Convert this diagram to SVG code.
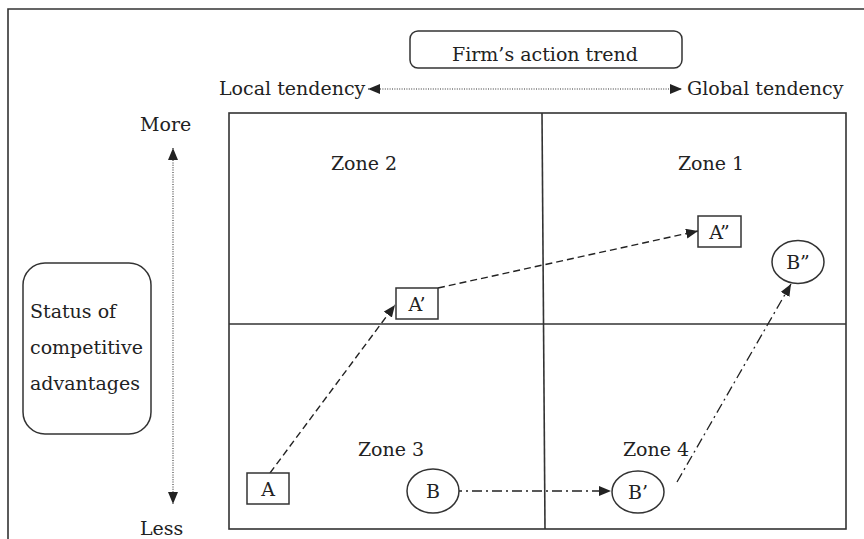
<svg xmlns="http://www.w3.org/2000/svg" width="864" height="539" viewBox="0 0 864 539">
<style>
text{font-family:"DejaVu Serif","Liberation Serif",serif;font-size:19px;fill:#222}
.c{text-anchor:middle}
.ln{fill:none;stroke:#333;stroke-width:1.6}
.nd{fill:#fff;stroke:#333;stroke-width:1.5}
.dot{fill:none;stroke:#333;stroke-width:1.1;stroke-dasharray:1 1.4}
.dash{fill:none;stroke:#222;stroke-width:1.4;stroke-dasharray:7 4}
.dd{fill:none;stroke:#222;stroke-width:1.3;stroke-dasharray:10 4 2 4}
</style>
<defs>
<marker id="ah" markerUnits="userSpaceOnUse" markerWidth="13" markerHeight="11" refX="12" refY="5" orient="auto-start-reverse" viewBox="0 0 13 11">
<path d="M0,0 L12,5 L0,10 z" fill="#222"/>
</marker>
</defs>
<g id="frame">
<path class="ln" d="M8,539 V9 H864" stroke="#444"/>
</g>
<g id="grid">
<rect class="ln" x="229" y="113" width="617" height="416"/>
<line class="ln" x1="542" y1="113" x2="545" y2="529"/>
<line class="ln" x1="229" y1="324" x2="846" y2="324"/>
<text class="c" x="364" y="170">Zone 2</text>
<text class="c" x="711" y="170">Zone 1</text>
<text class="c" x="391" y="456">Zone 3</text>
<text class="c" x="656" y="456">Zone 4</text>
</g>
<g id="trend">
<rect class="nd" x="410" y="31" width="272" height="37" rx="8"/>
<text class="c" x="545" y="61">Firm’s action trend</text>
</g>
<g id="local"><text x="219" y="95">Local tendency</text></g>
<g id="global"><text x="687" y="95">Global tendency</text></g>
<g id="more"><text x="140" y="131">More</text></g>
<g id="less"><text x="140" y="535">Less</text></g>
<g id="status">
<rect class="nd" x="23" y="263" width="128" height="171" rx="22"/>
<text x="30" y="318">Status of</text>
<text x="30" y="354">competitive</text>
<text x="30" y="390">advantages</text>
</g>
<g id="connectors">
<line class="dot" x1="368" y1="89" x2="682" y2="89" marker-start="url(#ah)" marker-end="url(#ah)"/>
<line class="dot" x1="173" y1="148" x2="173" y2="504" marker-start="url(#ah)" marker-end="url(#ah)"/>
<line class="dash" x1="270" y1="473" x2="395" y2="305" marker-end="url(#ah)"/>
<line class="dash" x1="438" y1="288" x2="698" y2="231" marker-end="url(#ah)"/>
<line class="dd" x1="452" y1="491" x2="611" y2="491" marker-end="url(#ah)"/>
<line class="dd" x1="677" y1="482" x2="791" y2="284" marker-end="url(#ah)"/>
</g>
<g id="nA"><rect class="nd" x="247" y="473" width="42" height="31"/><text class="c" x="268" y="496">A</text></g>
<g id="nA1"><rect class="nd" x="396" y="288" width="42" height="31"/><text class="c" x="417" y="311">A’</text></g>
<g id="nA2"><rect class="nd" x="698" y="216" width="43" height="31"/><text class="c" x="719.5" y="239">A”</text></g>
<g id="nB"><ellipse class="nd" cx="433" cy="491" rx="26" ry="22" fill="none"/><text class="c" x="433" y="498">B</text></g>
<g id="nB1"><ellipse class="nd" cx="638" cy="492" rx="26" ry="21"/><text class="c" x="638" y="499">B’</text></g>
<g id="nB2"><ellipse class="nd" cx="798" cy="262" rx="26" ry="21.5"/><text class="c" x="798" y="269">B”</text></g>
</svg>
